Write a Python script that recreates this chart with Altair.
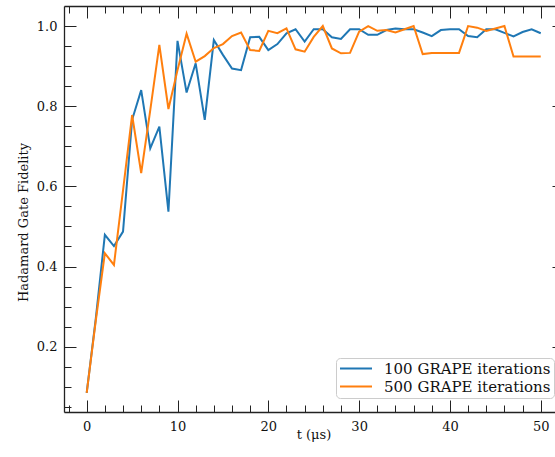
import altair as alt
import pandas as pd

# ---- data ----
t_us = list(range(51))
grape_100 = [0.085, 0.27, 0.479, 0.451, 0.487, 0.766, 0.84, 0.695, 0.749, 0.537,
             0.963, 0.834, 0.907, 0.766, 0.965, 0.928, 0.894, 0.89, 0.972, 0.973,
             0.94, 0.955, 0.982, 0.992, 0.961, 0.992, 0.992, 0.972, 0.968, 0.992,
             0.992, 0.978, 0.978, 0.99, 0.994, 0.992, 0.992, 0.984, 0.975, 0.99,
             0.992, 0.992, 0.975, 0.972, 0.992, 0.992, 0.983, 0.974, 0.985, 0.992, 0.982]
grape_500 = [0.085, 0.265, 0.433, 0.404, 0.59, 0.778, 0.633, 0.79, 0.953, 0.793,
             0.89, 0.981, 0.911, 0.925, 0.945, 0.955, 0.975, 0.984, 0.94, 0.938,
             0.988, 0.982, 0.994, 0.942, 0.936, 0.973, 1.0, 0.944, 0.932, 0.933,
             0.986, 1.0, 0.988, 0.99, 0.984, 0.992, 1.0, 0.93, 0.933, 0.933,
             0.933, 0.933, 1.0, 0.996, 0.988, 0.994, 1.0, 0.924, 0.924, 0.924, 0.924]
series_names = ["100 GRAPE iterations", "500 GRAPE iterations"]
series_colors = ["#1f77b4", "#ff7f0e"]
x_major = [0, 10, 20, 30, 40, 50]
x_minor = list(range(-2, 51, 2))
y_major = [0.2, 0.4, 0.6, 0.8, 1.0]
y_minor = [round(0.05 * i, 2) for i in range(1, 21)]

df = pd.DataFrame({
    "t": t_us * 2,
    "fid": grape_100 + grape_500,
    "series": [series_names[0]] * len(t_us) + [series_names[1]] * len(t_us),
})

W, H = 491, 406
FONT = "DejaVu Serif"
TXT = "#111111"
xs = alt.Scale(domain=[-2.5, 51.57], nice=False, zero=False)
ys = alt.Scale(domain=[0.037, 1.05], nice=False, zero=False)

main = alt.Chart(df).mark_line(strokeWidth=2).encode(
    x=alt.X("t:Q", scale=xs, axis=alt.Axis(
        orient="bottom", values=x_major, ticks=False, tickSize=0,
        labelPadding=18, labelBaseline="alphabetic", labelFontSize=13,
        labelFont=FONT, labelColor=TXT,
        title="t (μs)", titleFontSize=13, titleFont=FONT, titleColor=TXT,
        titleFontWeight="normal", titleBaseline="alphabetic",
        titleY=26, titleX=249.5, titleAnchor="start", titleAlign="center",
        domain=True, domainColor="#222222", domainWidth=1.3, grid=False,
        labelFlush=False, labelOverlap=False)),
    y=alt.Y("fid:Q", scale=ys, axis=alt.Axis(
        orient="left", values=y_major, ticks=False, tickSize=0,
        labelPadding=7, labelFontSize=13, format=".1f",
        labelFont=FONT, labelColor=TXT,
        title="Hadamard Gate Fidelity", titleFontSize=13, titleFont=FONT,
        titleColor=TXT, titleFontWeight="normal", titleAngle=270,
        titleBaseline="alphabetic", titleAlign="center", titleX=-37, titleY=216,
        domain=True, domainColor="#222222", domainWidth=1.3, grid=False,
        labelFlush=False, labelOverlap=False)),
    color=alt.Color("series:N", scale=alt.Scale(domain=series_names, range=series_colors),
                    legend=alt.Legend(
                        orient="none", legendX=272, legendY=352, title=None,
                        symbolType="stroke", symbolSize=1024, symbolStrokeWidth=2,
                        clipHeight=15, labelLimit=400,
                        labelFont=FONT, labelFontSize=15, labelColor=TXT,
                        labelOffset=11, padding=3, rowPadding=2,
                        strokeColor="#cccccc", fillColor="white", cornerRadius=4)),
)


def tick_axis(orient, offset, values, size, domain=False):
    return alt.Axis(orient=orient, offset=offset, values=values, tickSize=size,
                    ticks=True, labels=False, title=None, grid=False,
                    domain=domain, domainColor="#222222", domainWidth=1.3,
                    tickColor="#222222", tickWidth=1)


def tick_layer(xaxis, yaxis):
    return alt.Chart(df).mark_point(opacity=0).encode(
        x=alt.X("t:Q", scale=xs, axis=xaxis),
        y=alt.Y("fid:Q", scale=ys, axis=yaxis),
    )


# inward ticks: bottom & left
l2 = tick_layer(tick_axis("top", -H, x_major, 12), tick_axis("right", -W, y_major, 12))
l3 = tick_layer(tick_axis("top", -H, x_minor, 7), tick_axis("right", -W, y_minor, 7))
# inward ticks: top (with spine) & right (cropped, only major ends visible)
l4 = tick_layer(tick_axis("bottom", -H, x_major, 12, domain=True), tick_axis("left", -W, y_major, 3))
l5 = tick_layer(tick_axis("bottom", -H, x_minor, 7), tick_axis("left", -W, [0.5], 0))

chart = alt.layer(main, l2, l3, l4, l5).resolve_axis(
    x="independent", y="independent"
).properties(
    width=W, height=H,
    padding={"left": 64, "top": 6, "right": 0, "bottom": 45},
    autosize=alt.AutoSizeParams(type="none"),
).configure_view(stroke=None).configure_axis(
    labelFont=FONT, titleFont=FONT, labelColor=TXT, titleColor=TXT,
    titleFontWeight="normal",
).configure(background="white")

chart.save("out.html", embed_options={"renderer": "svg", "actions": False})
